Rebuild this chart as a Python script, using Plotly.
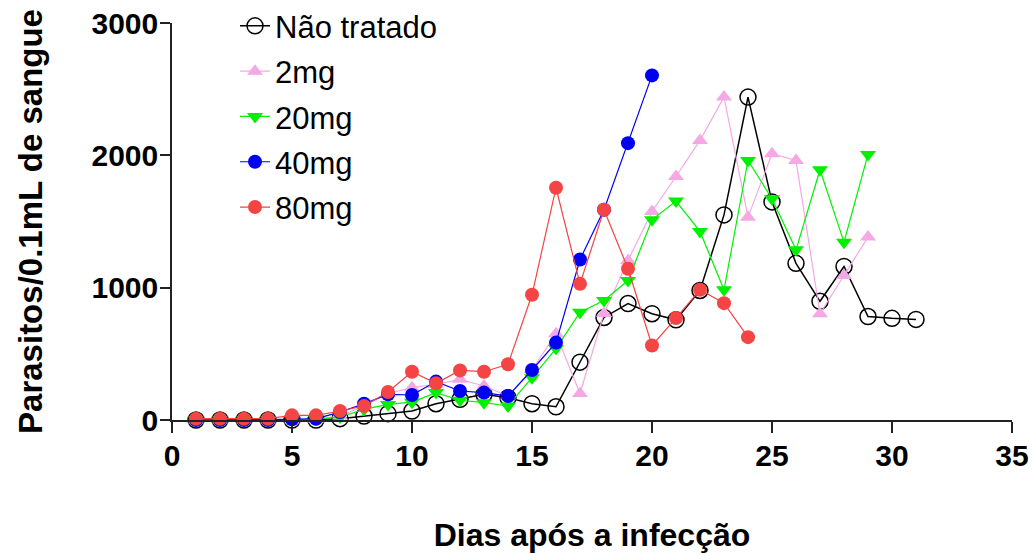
import plotly.graph_objects as go

days_nt = list(range(1, 32))
nao_tratado = [0, 0, 0, 0, 0, 0, 10, 30, 48, 68, 123, 156, 194, 169, 123, 100,
               437, 775, 880, 803, 757, 979, 1550, 2440, 1648, 1184, 897, 1160, 782, 768, 760]

days_2 = list(range(1, 30))
mg2 = [0, 0, 0, 0, 0, 5, 30, 106, 200, 244, 270, 307, 257, 181, 380, 652, 200, 805,
       1205, 1576, 1840, 2113, 2440, 1533, 2012, 1961, 803, 1092, 1382]

days_20 = list(range(1, 30))
mg20 = [0, 0, 0, 0, 0, 5, 23, 80, 118, 135, 207, 149, 131, 106, 320, 540, 815, 903,
        1054, 1513, 1654, 1425, 984, 1961, 1672, 1286, 1891, 1344, 2007]

days_40 = list(range(1, 21))
mg40 = [0, 0, 0, 0, 5, 10, 60, 123, 194, 189, 290, 219, 207, 181, 378, 585, 1213,
        1589, 2092, 2604]

days_80 = list(range(1, 25))
mg80 = [10, 10, 10, 10, 35, 35, 68, 106, 212, 365, 277, 375, 365, 421, 946, 1755,
        1029, 1589, 1143, 563, 770, 984, 883, 626]

x_ticks = [0, 5, 10, 15, 20, 25, 30, 35]
y_ticks = [0, 1000, 2000, 3000]

FONT = "Liberation Sans, Arial, sans-serif"

fig = go.Figure()

series = [
    ("Não tratado", days_nt, nao_tratado, "#000000", "circle-open", 16, 1.5),
    ("2mg", days_2, mg2, "#F4A8E4", "triangle-up", 14, 1.2),
    ("20mg", days_20, mg20, "#00F000", "triangle-down", 14, 1.2),
    ("40mg", days_40, mg40, "#0000F0", "circle", 14, 1.2),
    ("80mg", days_80, mg80, "#F44444", "circle", 14, 1.2),
]

for name, xs, ys, color, sym, size, lw in series:
    marker = dict(symbol=sym, size=size, color=color)
    if sym == "circle-open":
        marker["line"] = dict(width=1.5, color=color)
    else:
        marker["line"] = dict(width=0)
    fig.add_trace(go.Scatter(
        x=xs, y=ys, name=name, mode="lines+markers",
        line=dict(color=color, width=lw),
        marker=marker, cliponaxis=False, legendgroup=name,
    ))

fig.update_layout(
    width=1032, height=553,
    margin=dict(l=172, r=20, t=23, b=133, autoexpand=False),
    paper_bgcolor="white", plot_bgcolor="white",
    font=dict(family=FONT, color="black"),
    showlegend=True,
    legend=dict(
        x=0.075, y=1.06, xanchor="left", yanchor="top",
        font=dict(family=FONT, size=31, color="black"),
        bgcolor="rgba(0,0,0,0)", tracegroupgap=2,
        itemsizing="trace",
    ),
    xaxis=dict(
        range=[0, 35], tickvals=x_ticks, ticktext=[str(v) for v in x_ticks],
        showline=True, linecolor="#222222", linewidth=1.5,
        ticks="outside", ticklen=11, tickwidth=1.5, tickcolor="#222222",
        showgrid=False, zeroline=False, automargin=False,
        ticklabelstandoff=-3, ticklabeloverflow="allow",
        tickfont=dict(family=FONT, size=30, color="black", weight="bold"),
        title=dict(text="<b>Dias após a infecção</b>",
                   font=dict(family=FONT, size=32, color="black"), standoff=54),
    ),
    yaxis=dict(
        range=[0, 3000], tickvals=y_ticks, ticktext=[str(v) for v in y_ticks],
        showline=True, linecolor="#222222", linewidth=1.5,
        ticks="outside", ticklen=10, tickwidth=1.5, tickcolor="#222222",
        showgrid=False, zeroline=False, automargin=False,
        ticklabelstandoff=-4, ticklabeloverflow="allow",
        tickfont=dict(family=FONT, size=30, color="black", weight="bold"),
        title=dict(text="<b>Parasitos/0.1mL de sangue</b>",
                   font=dict(family=FONT, size=33, color="black"), standoff=39),
    ),
)

fig.write_html(
    "out.html",
    config={"displayModeBar": False},
    post_script="document.body.style.margin='0';document.body.style.overflow='hidden';",
)
